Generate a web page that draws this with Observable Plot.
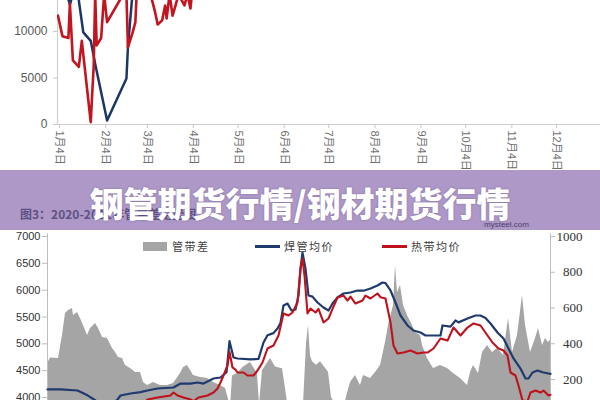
<!DOCTYPE html>
<html><head><meta charset="utf-8">
<script src="https://cdn.jsdelivr.net/npm/d3@7"></script>
<script src="https://cdn.jsdelivr.net/npm/@observablehq/plot@0.6"></script>
<style>
body{margin:0;background:#fff;}
#wrap{position:relative;width:600px;height:400px;overflow:hidden;background:#fff;font-family:"Liberation Sans","Noto Sans CJK SC",sans-serif;}
#top{position:absolute;left:0;top:0;}
#bottom{position:absolute;left:0;top:230px;}
#band{position:absolute;left:0;top:170px;width:600px;height:60px;background:#ad98c8;}
#sub{position:absolute;left:20px;top:205px;font:bold 12px "Noto Sans CJK SC",sans-serif;color:#5f5184;white-space:nowrap;}
#site{position:absolute;left:484px;top:220px;font:8px/9px "Liberation Sans",sans-serif;color:#4a3f66;}
#title{position:absolute;left:0;top:186px;width:600px;height:34px;line-height:34px;text-align:center;color:#fff;font:900 34px/34px "Noto Sans CJK SC",sans-serif;text-shadow:0 0 2px rgba(70,50,100,0.45);white-space:nowrap;}
.leg{position:absolute;font:11px "Noto Sans CJK SC",serif;color:#404040;letter-spacing:1.5px;white-space:nowrap;line-height:14px;}
.sw{position:absolute;}
</style></head>
<body><div id="wrap">
<div id="top"></div>
<div id="bottom"></div>
<div id="band"></div>
<div id="sub"></div>
<div id="site"></div>
<div id="title"></div>
</div>
<script>
// ---------- top chart data ----------
const topTickDates = ["2021-01-04","2021-02-04","2021-03-04","2021-04-04","2021-05-04","2021-06-04","2021-07-04","2021-08-04","2021-09-04","2021-10-04","2021-11-04","2021-12-04"];
const topTickLabels = ["1月4日","2月4日","3月4日","4月4日","5月4日","6月4日","7月4日","8月4日","9月4日","10月4日","11月4日","12月4日"];
const topYTicks = [0, 5000, 10000];

const topRedDates = ["2021-01-03","2021-01-06","2021-01-10","2021-01-11","2021-01-13","2021-01-17","2021-01-19","2021-01-25","2021-01-27","2021-01-28","2021-01-29","2021-02-01","2021-02-03","2021-02-05","2021-02-14","2021-02-18","2021-02-19","2021-02-22","2021-02-24","2021-02-25","2021-03-01","2021-03-06","2021-03-07","2021-03-09","2021-03-11","2021-03-14","2021-03-16","2021-03-17","2021-03-19","2021-03-21","2021-03-23","2021-03-25","2021-03-29","2021-03-31","2021-04-02","2021-04-03"];
const topRedValues = [11700,9500,9300,13000,6900,6200,9000,250,6300,14000,8500,9300,14000,11000,13500,14000,8300,9800,11000,14500,16000,15000,13500,12250,10750,11200,12800,11400,14000,11700,12800,14000,12800,14000,12470,14000];

const topBlueDates = ["2021-01-09","2021-01-11","2021-01-13","2021-01-16","2021-01-20","2021-01-25","2021-01-28","2021-02-05","2021-02-18","2021-02-19","2021-02-22","2021-02-24"];
const topBlueValues = [14000,12900,14000,14500,9900,9000,6500,430,4950,8300,14000,16000];

// ---------- bottom chart data ----------
const legendLabels = ["管带差","焊管均价","热带均价"];
const leftTicks = [4000,4500,5000,5500,6000,6500,7000];
const rightTicks = [200,400,600,800,1000];
// days since 2020-01-01
const gapDays = [0,6,22,30,36,42,50,52,60,66,72,80,86,96,102,110,120,130,136,142,150,156,166,176,186,192,200,212,226,240,252,266,272,280,286,292,306,320,332,346,356,362,366,370,380,392,406,416,420,424,430,446,456,470,476,482,508,512,518,522,526,530,538,546,554,562,568,576,596,606,616,626,632,646,656,666,676,682,692,696,700,706,712,720,730,736,746,750,760,772,786,800,812,826,840,846,852,862,870,880,890,900,912,922,930,940,950,956,966,976,982,990,996,1002,1006];
const gapValues = [290,320,317,446,569,586,597,558,575,541,502,446,485,513,485,435,429,373,351,323,317,278,262,239,239,183,166,183,166,166,177,234,267,278,250,222,211,206,183,166,150,90,40,220,234,270,295,250,230,60,250,317,270,260,150,30,20,60,400,502,330,300,280,300,270,240,100,60,80,183,222,166,222,206,239,278,407,502,614,838,687,726,614,558,502,463,446,390,317,262,278,262,234,206,166,239,278,234,351,390,351,373,334,541,351,446,670,502,351,429,485,390,429,407,420];

const weldDays = [0,26,60,80,96,106,126,140,146,166,186,200,220,252,266,286,300,312,332,346,358,364,372,380,406,422,432,440,452,460,466,472,480,488,496,502,506,510,516,522,530,540,552,562,570,580,592,606,620,632,646,660,670,676,686,696,706,720,732,746,756,786,790,806,816,822,840,856,866,876,886,900,912,922,932,946,956,962,970,980,990,1002,1006];
const weldValues = [4150,4150,4130,4040,3944,3850,3850,3963,4037,4075,4100,4130,4168,4186,4260,4260,4280,4260,4354,4373,4470,5050,4745,4727,4710,4720,5025,5160,5200,5286,5390,5714,5750,5620,5640,5900,6400,6700,6400,5900,5880,5770,5677,5621,5751,5863,5938,5957,5994,5990,6031,6087,6143,6130,5994,5770,5528,5342,5248,5211,5155,5155,5342,5320,5435,5400,5472,5528,5528,5480,5379,5211,5099,4913,4727,4540,4354,4354,4466,4503,4470,4447,4440];

const hotDays = [0,106,166,196,200,220,246,252,260,272,286,292,302,320,332,340,346,352,360,364,370,376,380,392,400,412,420,430,440,452,462,472,482,490,500,506,510,514,520,526,536,542,552,562,570,580,592,600,606,616,630,636,646,660,666,676,686,692,700,712,726,740,752,760,772,786,800,812,826,840,852,866,880,890,902,912,920,926,936,942,950,960,966,976,986,992,1002,1006];
const hotValues = [3700,3500,3700,3930,3963,4000,4037,4093,4037,4000,3963,3930,4000,4037,4093,4168,4280,4410,4596,4850,4560,4520,4466,4466,4410,4410,4503,4652,4913,4969,5155,5565,5528,5584,5770,6404,6590,6273,5565,5658,5584,5650,5398,5472,5650,5863,5900,5807,5880,5751,5807,5900,5845,5938,5870,5845,5398,4969,4820,4838,4876,4820,4838,4838,4913,5099,5060,5304,5155,5304,5379,5342,5155,5025,4913,4876,4783,4466,4410,4224,3944,3930,4093,4130,4093,4130,4037,4050];

// ---------- top chart ----------
const pd = s => new Date(s + "T00:00");
const topRed = topRedDates.map((d,i)=>({date:pd(d), v:topRedValues[i]}));
const topBlue = topBlueDates.map((d,i)=>({date:pd(d), v:topBlueValues[i]}));
const xMin = new Date(2021,0,2,16), xMax = new Date(2022,0,2,14);

const topPlot = Plot.plot({
  width:600, height:200, marginLeft:57, marginRight:0, marginTop:0, marginBottom:76,
  style:{fontFamily:'"Liberation Sans","Noto Sans CJK SC",sans-serif', background:"transparent"},
  x:{type:"time", domain:[xMin,xMax], range:[57,600]},
  y:{domain:[0,13333], range:[124,0]},
  marks:[
    Plot.ruleY([0],{stroke:"#d0d0d0", strokeWidth:1.2}),
    Plot.ruleX([xMin],{y1:0, y2:13333, stroke:"#d0d0d0", strokeWidth:1.2}),
    Plot.axisY({ticks:topYTicks, label:null, tickSize:4, tickPadding:6, fontSize:12, stroke:"#c8c8c8", fill:"#595959", tickFormat:d=>String(d)}),
    Plot.axisX({ticks:topTickDates.map(pd), label:null, tickFormat:d=>topTickLabels[d.getMonth()], tickRotate:90, tickSize:4, tickPadding:2, fontSize:11, stroke:"#c8c8c8", fill:"#707070"}),
    Plot.line(topBlue,{x:"date", y:"v", stroke:"#1c3766", strokeWidth:2.5, clip:true}),
    Plot.line(topRed,{x:"date", y:"v", stroke:"#c3141f", strokeWidth:2.6, clip:true})
  ]
});
document.getElementById("top").appendChild(topPlot);

// ---------- bottom chart ----------
const base = new Date(2020,0,1);
const toDate = d => d3.timeDay.offset(base, d);
const toLeft = d3.scaleLinear([0,1000],[3669.2,7000]);
const toRight = toLeft.invert;
const gap = gapDays.map((d,i)=>({date:toDate(d), v:gapValues[i]}));
const weld = weldDays.map((d,i)=>({date:toDate(d), v:weldValues[i]}));
const hot = hotDays.map((d,i)=>({date:toDate(d), v:hotValues[i]}));
const bMin = toDate(0), bMax = toDate(1006);

const botPlot = Plot.plot({
  width:600, height:200, marginLeft:47, marginRight:50, marginTop:6, marginBottom:33,
  style:{fontFamily:'"Liberation Sans",sans-serif', background:"transparent"},
  x:{type:"time", domain:[bMin,bMax], range:[47,550], axis:null},
  y:{domain:[4000,7000], range:[167,6]},
  marks:[
    Plot.areaY(gap,{x:"date", y1:()=>toLeft(0), y2:d=>toLeft(d.v), fill:"#a5a5a5", curve:"linear"}),
    Plot.ruleX([bMin],{y1:3600, y2:7050, stroke:"#bdbdbd"}),
    Plot.ruleX([bMax],{y1:3600, y2:7050, stroke:"#bdbdbd"}),
    Plot.axisY({ticks:leftTicks, label:null, tickSize:5, tickPadding:2, fontSize:11, stroke:"#bdbdbd", fill:"#333", tickFormat:d=>String(d)}),
    Plot.axisY({anchor:"right", label:null, ticks:rightTicks.map(v=>toLeft(v)), tickFormat:v=>String(Math.round(toRight(v))), tickSize:4, tickPadding:28, textAnchor:"end", fontSize:13, fontFamily:'"Liberation Serif",serif', stroke:"#bdbdbd", fill:"#333"}),
    Plot.line(weld,{x:"date", y:"v", stroke:"#1f3a6e", strokeWidth:2.2}),
    Plot.line(hot,{x:"date", y:"v", stroke:"#c0121c", strokeWidth:2.1})
  ]
});
const bottom = document.getElementById("bottom");
bottom.appendChild(botPlot);

// legend (inside bottom chart)
const legItems = [
  {sw:{left:143,top:12,width:24,height:9,background:"#a5a5a5"}, tx:172, label:legendLabels[0]},
  {sw:{left:255,top:15,width:25,height:3,background:"#1f3a6e"}, tx:284, label:legendLabels[1]},
  {sw:{left:382,top:15,width:25,height:3,background:"#c0121c"}, tx:411, label:legendLabels[2]}
];
legItems.forEach(it=>{
  const s = document.createElement("div"); s.className="sw";
  Object.entries(it.sw).forEach(([k,v])=> s.style[k] = typeof v==="number" ? v+"px" : v);
  bottom.appendChild(s);
  const t = document.createElement("div"); t.className="leg";
  t.style.left = it.tx+"px"; t.style.top = "9px"; t.textContent = it.label;
  bottom.appendChild(t);
});

// band texts
document.getElementById("sub").textContent = "图3：2020-2022年管带差走势图";
document.getElementById("site").textContent = "mysteel.com";
document.getElementById("title").textContent = "钢管期货行情/钢材期货行情";
</script>
</body></html>
